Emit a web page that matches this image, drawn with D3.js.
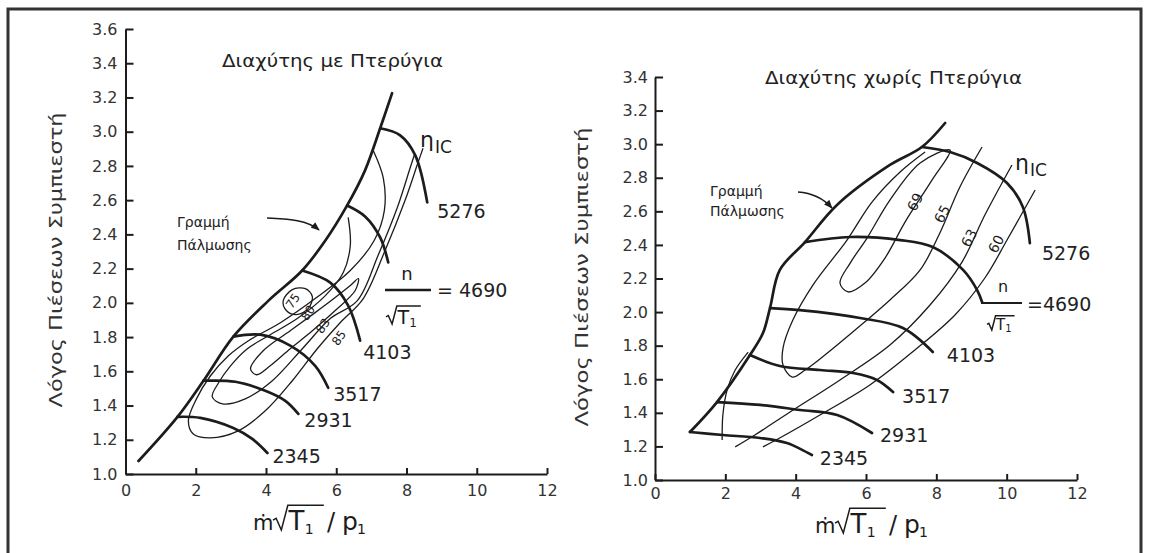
<!DOCTYPE html>
<html>
<head>
<meta charset="utf-8">
<script src="https://cdn.jsdelivr.net/npm/d3@7"></script>
<style>
  body { margin: 0; background: #fff; }
  svg { display: block; font-family: "DejaVu Sans", sans-serif; }
</style>
</head>
<body>
<svg id="chart" width="1149" height="553"></svg>
<script>
// ---- data ----
const speeds = ["2345", "2931", "3517", "4103", "4690", "5276"];
const xTicks = [0, 2, 4, 6, 8, 10, 12];
const yTicksVaned = [1.0, 1.2, 1.4, 1.6, 1.8, 2.0, 2.2, 2.4, 2.6, 2.8, 3.0, 3.2, 3.4, 3.6];
const yTicksVaneless = [1.0, 1.2, 1.4, 1.6, 1.8, 2.0, 2.2, 2.4, 2.6, 2.8, 3.0, 3.2, 3.4];

// vaned diffuser
const surgeVaned = [[0.37, 1.076], [1.48, 1.334], [2.22, 1.545], [3.07, 1.803], [4.07, 2.013], [5.03, 2.189],
  [5.69, 2.364], [6.31, 2.569], [6.82, 2.774], [7.25, 3.020], [7.59, 3.225]];
const speedVaned = [
  [[1.48, 1.334], [2.13, 1.328], [3.07, 1.269], [3.61, 1.205], [4.04, 1.123]],
  [[2.22, 1.545], [3.13, 1.539], [3.98, 1.486], [4.55, 1.427], [4.92, 1.351]],
  [[3.07, 1.803], [3.84, 1.814], [4.69, 1.750], [5.40, 1.632], [5.77, 1.504]],
  [[5.03, 2.189], [5.83, 2.118], [6.34, 1.984], [6.68, 1.779]],
  [[6.31, 2.569], [6.82, 2.505], [7.25, 2.382], [7.48, 2.236]],
  [[7.25, 3.020], [7.82, 2.979], [8.25, 2.862], [8.59, 2.587]]
];
const effVanedLabels = ["75", "80", "83", "85"];
const effVaned = [
  [[7.05, 2.891], [7.34, 2.728], [7.37, 2.540], [7.08, 2.364], [6.40, 2.189], [5.40, 2.025], [4.41, 1.884],
   [3.50, 1.779], [2.93, 1.691], [2.42, 1.574], [2.02, 1.439], [1.79, 1.310], [1.93, 1.234], [2.42, 1.211],
   [3.21, 1.252], [3.98, 1.369], [4.75, 1.545], [5.46, 1.732], [6.11, 1.884], [6.77, 2.025], [7.39, 2.306],
   [7.96, 2.599], [8.33, 2.821], [8.47, 2.903]],
  [[6.34, 2.499], [6.40, 2.335], [6.20, 2.177], [5.69, 2.042], [4.89, 1.908], [4.07, 1.808], [3.47, 1.732],
   [2.99, 1.632], [2.65, 1.533], [2.47, 1.451], [2.76, 1.410], [3.41, 1.439], [4.18, 1.545], [5.06, 1.738],
   [5.83, 1.908], [6.60, 2.013], [7.19, 2.277], [7.76, 2.569], [8.10, 2.786], [8.22, 2.862]],
  [[3.56, 1.615], [3.92, 1.720], [4.69, 1.837], [5.40, 1.943], [5.97, 2.031], [6.40, 2.101], [6.63, 2.142],
   [6.54, 2.072], [5.97, 1.955], [5.32, 1.837], [4.69, 1.732], [4.12, 1.632], [3.73, 1.580]],
  [[4.49, 2.013], [4.75, 2.077], [5.12, 2.083], [5.32, 2.037], [5.20, 1.966], [4.86, 1.931], [4.58, 1.955]]
];
const effVanedClosed = [false, false, true, true];

// vaneless diffuser
const surgeVaneless = [[0.995, 1.286], [1.763, 1.464], [2.70, 1.744], [3.07, 1.875], [3.27, 2.024], [3.55, 2.251],
  [4.265, 2.417], [5.175, 2.638], [6.68, 2.876], [7.59, 2.983], [8.25, 3.126]];
const speedVaneless = [
  [[0.995, 1.286], [1.93, 1.268], [2.99, 1.250], [3.75, 1.220], [4.46, 1.149]],
  [[1.763, 1.464], [2.99, 1.447], [4.12, 1.417], [5.18, 1.387], [6.17, 1.280]],
  [[2.70, 1.744], [3.55, 1.679], [4.69, 1.655], [5.63, 1.637], [6.31, 1.596], [6.77, 1.524]],
  [[3.27, 2.024], [4.12, 2.012], [5.83, 1.965], [7.05, 1.905], [7.90, 1.762]],
  [[4.265, 2.417], [5.55, 2.447], [6.97, 2.429], [7.90, 2.387], [8.76, 2.251], [9.16, 2.131], [9.30, 2.060]],
  [[7.59, 2.983], [8.39, 2.953], [9.16, 2.888], [10.01, 2.769], [10.46, 2.626], [10.66, 2.411]]
];
const effVanelessLabels = ["69", "65", "63", "60", ""];
const effVaneless = [
  [[8.39, 2.965], [7.54, 2.888], [6.68, 2.667], [6.03, 2.441], [5.55, 2.292], [5.26, 2.173], [5.49, 2.120],
   [5.97, 2.173], [6.54, 2.322], [7.11, 2.536], [7.88, 2.787]],
  [[9.30, 2.983], [8.67, 2.745], [8.10, 2.471], [7.54, 2.251], [6.68, 2.072], [5.69, 1.893], [4.83, 1.744],
   [4.27, 1.655], [3.90, 1.613], [3.64, 1.685], [3.64, 1.786], [3.92, 1.953], [4.49, 2.161], [5.46, 2.429],
   [6.17, 2.655], [6.97, 2.834], [7.68, 2.953]],
  [[10.15, 2.876], [9.38, 2.578], [8.73, 2.298], [7.82, 2.042], [6.68, 1.804], [5.26, 1.596], [3.84, 1.405],
   [2.84, 1.268], [2.28, 1.197]],
  [[10.81, 2.727], [10.01, 2.429], [9.38, 2.203], [8.53, 1.983], [7.39, 1.774], [6.11, 1.566], [4.69, 1.387],
   [3.70, 1.268], [3.07, 1.197]],
  [[1.91, 1.238], [1.93, 1.387], [2.05, 1.536], [2.28, 1.655], [2.65, 1.762]]
];
const effVanelessClosed = [true, false, false, false, false];

// ---- drawing ----
const svg = d3.select("#chart");
const ink = "#1c1c1c";

svg.append("defs").append("marker")
  .attr("id", "arrow").attr("viewBox", "0 0 10 8")
  .attr("refX", 9).attr("refY", 4)
  .attr("markerWidth", 9).attr("markerHeight", 7)
  .attr("markerUnits", "userSpaceOnUse").attr("orient", "auto")
  .append("path").attr("d", "M0,0 L10,4 L0,8 Z").attr("fill", ink);

// outer frame
svg.append("rect")
  .attr("x", 8).attr("y", 9).attr("width", 1133).attr("height", 580)
  .attr("fill", "none").attr("stroke", "#333").attr("stroke-width", 3);

function txt(g, x, y, s, size) {
  return g.append("text").attr("x", x).attr("y", y).attr("fill", ink)
    .style("font-size", size + "px").text(s);
}

// radical sign over T with subscript 1
function sqrtT(g, x0, base, s, subS, over) {
  g.append("path")
    .attr("d", `M${x0},${base - s * 0.38} l${s * 0.12},${-s * 0.07} l${s * 0.2},${s * 0.45} l${s * 0.25},${-s * 0.95} h${over}`)
    .attr("fill", "none").attr("stroke", ink).attr("stroke-width", 1.5);
  txt(g, x0 + s * 0.6, base, "T", s);
  txt(g, x0 + s * 0.6 + s * 0.62, base + s * 0.15, "1", subS);
}

function drawPanel(p) {
  const x = d3.scaleLinear().domain([0, 12]).range(p.xRange);
  const y = d3.scaleLinear().domain(p.yDomain).range(p.yRange);
  const g = svg.append("g");
  const line = d3.line().x(d => x(d[0])).y(d => y(d[1])).curve(d3.curveCatmullRom.alpha(0.5));
  const loop = d3.line().x(d => x(d[0])).y(d => y(d[1])).curve(d3.curveCatmullRomClosed.alpha(0.5));

  // axes
  const ax = g.append("g").attr("transform", `translate(0,${y(p.yDomain[0])})`)
    .call(d3.axisBottom(x).tickValues(xTicks).tickFormat(d3.format("d"))
      .tickSizeInner(-6).tickSizeOuter(0).tickPadding(p.xPad));
  const ay = g.append("g").attr("transform", `translate(${x(0)},0)`)
    .call(d3.axisLeft(y).tickValues(p.yTicks).tickFormat(d3.format(".1f"))
      .tickSizeInner(-8).tickSizeOuter(0).tickPadding(p.yPad));
  [ax, ay].forEach(a => {
    a.attr("font-family", null).attr("font-size", null);
    a.select(".domain").attr("stroke", ink).attr("stroke-width", 2);
    a.selectAll(".tick line").attr("stroke", ink).attr("stroke-width", 2);
    a.selectAll(".tick text").attr("fill", "#333").style("font-size", "16px");
  });

  // efficiency contours
  g.selectAll(".eff").data(p.eff).enter().append("path")
    .attr("d", (d, i) => p.effClosed[i] ? loop(d) : line(d))
    .attr("fill", "none").attr("stroke", ink).attr("stroke-width", 1.3);

  // surge line and speed lines
  g.append("path").attr("d", line(p.surge))
    .attr("fill", "none").attr("stroke", ink).attr("stroke-width", 2.7).attr("stroke-linecap", "round");
  g.selectAll(".speed").data(p.speed).enter().append("path")
    .attr("d", d => line(d))
    .attr("fill", "none").attr("stroke", ink).attr("stroke-width", 2.7).attr("stroke-linecap", "round");

  // speed labels at the line ends
  p.speed.forEach((d, i) => {
    const off = p.speedOff[i];
    if (!off) return;
    const e = d[d.length - 1];
    txt(g, x(e[0]) + off[0], y(e[1]) + off[1], speeds[i], 19).attr("fill", "#222");
  });

  // efficiency labels
  p.effLabels.forEach((s, i) => {
    if (!s) return;
    const pos = p.effLabelPos[i];
    g.append("text").attr("transform", `translate(${pos[0]},${pos[1]}) rotate(${p.effRot})`)
      .attr("text-anchor", "middle").attr("dominant-baseline", "central")
      .attr("fill", ink).style("font-size", p.effSize + "px").text(s);
  });

  // titles and axis labels
  txt(g, p.title[0], p.title[1], p.titleText, 17)
    .attr("textLength", p.title[2]).attr("lengthAdjust", "spacingAndGlyphs").attr("fill", "#222");
  g.append("text").attr("transform", `translate(${p.yLab[0]},${p.yLab[1]}) rotate(-90)`)
    .attr("text-anchor", "middle").attr("dominant-baseline", "central")
    .attr("textLength", p.yLab[2]).attr("lengthAdjust", "spacingAndGlyphs")
    .attr("fill", "#333").style("font-size", "18px").text("Λόγος Πιέσεων Συμπιεστή");

  const [ox, ob] = p.xLab;
  txt(g, ox, ob, "ṁ", 21);
  sqrtT(g, ox + 20, ob, 26, 14, 36);
  txt(g, ox + 74, ob, "/", 24);
  txt(g, ox + 89, ob, "p", 25);
  txt(g, ox + 104, ob + 4, "1", 14);

  // surge line label with arrow
  txt(g, p.surgeLab[0], p.surgeLab[1], "Γραμμή", 14).attr("fill", "#222");
  txt(g, p.surgeLab[0], p.surgeLab[2], "Πάλμωσης", 14).attr("fill", "#222");
  g.append("path").attr("d", p.arrow).attr("fill", "none")
    .attr("stroke", ink).attr("stroke-width", 1.6).attr("marker-end", "url(#arrow)");

  // eta_ic
  txt(g, p.eta[0], p.eta[1], "η", 22);
  txt(g, p.eta[0] + 15, p.eta[1] + 6, "IC", 17);

  // n / sqrt(T1) = 4690
  const f = p.frac;
  txt(g, f.n[0], f.n[1], "n", f.nSize).attr("text-anchor", "middle");
  g.append("line").attr("x1", f.bar[0]).attr("x2", f.bar[1]).attr("y1", f.bar[2]).attr("y2", f.bar[2])
    .attr("stroke", ink).attr("stroke-width", f.barW);
  sqrtT(g, f.sq[0], f.sq[1], f.sq[2], f.sq[3], f.sq[4]);
  txt(g, f.eq[0], f.eq[1], f.eq[2], 19).attr("fill", "#222");
}

drawPanel({
  xRange: [125.5, 547], yDomain: [1.0, 3.6], yRange: [474, 29], yTicks: yTicksVaned, xPad: 11, yPad: 8,
  surge: surgeVaned, speed: speedVaned, eff: effVaned, effClosed: effVanedClosed,
  speedOff: [[5, 10], [6, 13], [5, 13], [3, 18], null, [10, 16]],
  effLabels: effVanedLabels, effLabelPos: [[293, 301], [308, 313], [323, 326], [339, 338]], effRot: -55, effSize: 12,
  titleText: "Διαχύτης με Πτερύγια", title: [222, 67, 221],
  yLab: [55, 260, 295], xLab: [253, 530],
  surgeLab: [177, 227, 250], arrow: "M267,218 C285,219 306,219 319,230",
  eta: [420, 147],
  frac: { n: [407, 280], nSize: 18, bar: [385, 431, 290], barW: 2.5, sq: [386, 324, 19, 12, 24], eq: [437, 297, "= 4690"] }
});

drawPanel({
  xRange: [655, 1077], yDomain: [1.0, 3.4], yRange: [480, 77], yTicks: yTicksVaneless, xPad: 8, yPad: 7,
  surge: surgeVaneless, speed: speedVaneless, eff: effVaneless, effClosed: effVanelessClosed,
  speedOff: [[8, 10], [8, 9], [9, 11], [14, 10], null, [12, 17]],
  effLabels: effVanelessLabels, effLabelPos: [[915, 202], [942, 214], [969, 238], [996, 244]], effRot: -62, effSize: 14,
  titleText: "Διαχύτης χωρίς Πτερύγια", title: [765, 84, 257],
  yLab: [581, 277, 299], xLab: [815, 533],
  surgeLab: [710, 196, 216], arrow: "M798,192 C812,193 823,198 832,208",
  eta: [1015, 170],
  frac: { n: [1003, 292], nSize: 16, bar: [981, 1022, 303], barW: 1.8, sq: [987, 330, 15, 10, 19], eq: [1027, 311, "=4690"] }
});
</script>
</body>
</html>
